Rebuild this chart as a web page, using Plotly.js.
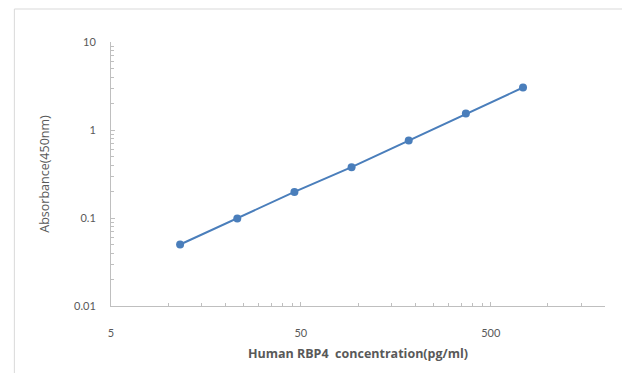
<!DOCTYPE html>
<html>
<head>
<meta charset="utf-8">
<script src="https://cdn.plot.ly/plotly-3.0.1.min.js"></script>
<style>html,body{margin:0;padding:0;background:#fff;}#chart{width:622px;height:373px;}</style>
</head>
<body>
<div id="chart"></div>
<script>
// Data
const concentration = [11.56, 23.13, 46.25, 92.5, 185, 370, 740];
const absorbance = [0.050, 0.099, 0.198, 0.378, 0.76, 1.54, 3.04];

// Axis tick values and labels
const xTickVals = [5, 50, 500];
const xTickText = ['5', '50', '500'];
const xMinorVals = [10, 15, 20, 25, 30, 35, 40, 45, 100, 150, 200, 250, 300, 350, 400, 450, 1000, 1500, 2000];
const yTickVals = [0.01, 0.1, 1, 10];
const yTickText = ['0.01', '0.1', '1', '10'];
const yMinorVals = [0.02, 0.03, 0.04, 0.05, 0.06, 0.07, 0.08, 0.09, 0.2, 0.3, 0.4, 0.5, 0.6, 0.7, 0.8, 0.9, 2, 3, 4, 5, 6, 7, 8, 9];
const xRange = [5, 2000];
const yRange = [0.01, 10];

const xTitle = 'Human RBP4  concentration(pg/ml)';
const yTitle = 'Absorbance(450nm)';

const axisColor = '#bfbfbf';
const textColor = '#595959';
const font = 'Lato, "Open Sans", "Liberation Sans", sans-serif';
const titleFont = '"Open Sans", Lato, "Liberation Sans", sans-serif';

const trace = {
  x: concentration,
  y: absorbance,
  type: 'scatter',
  mode: 'lines+markers',
  line: {color: '#4a7ebb', width: 2},
  marker: {color: '#4a7ebb', size: 8},
  hoverinfo: 'x+y'
};

const layout = {
  width: 622,
  height: 373,
  margin: {l: 111, r: 17, t: 42, b: 67},
  paper_bgcolor: '#ffffff',
  plot_bgcolor: '#ffffff',
  showlegend: false,
  font: {family: font, color: textColor, size: 11},
  xaxis: {
    type: 'log',
    range: xRange.map(Math.log10),
    tickmode: 'array',
    tickvals: xTickVals,
    ticktext: xTickText,
    ticks: 'inside',
    ticklen: 4,
    tickcolor: axisColor,
    ticklabelstandoff: 17,
    minor: {tickmode: 'array', tickvals: xMinorVals, ticks: 'inside', ticklen: 3, tickcolor: axisColor, showgrid: false},
    showline: true,
    linecolor: axisColor,
    linewidth: 1,
    showgrid: false,
    zeroline: false,
    automargin: false,
    tickfont: {size: 11, color: textColor},
    title: {text: xTitle, font: {family: titleFont, size: 12.5, color: textColor, weight: 'bold'}, standoff: 11}
  },
  yaxis: {
    type: 'log',
    range: yRange.map(Math.log10),
    tickmode: 'array',
    tickvals: yTickVals,
    ticktext: yTickText,
    ticks: 'inside',
    ticklen: 4,
    tickcolor: axisColor,
    ticklabelstandoff: 12,
    minor: {tickmode: 'array', tickvals: yMinorVals, ticks: 'inside', ticklen: 3, tickcolor: axisColor, showgrid: false},
    showline: true,
    linecolor: axisColor,
    linewidth: 1,
    showgrid: false,
    zeroline: false,
    automargin: false,
    tickfont: {size: 11, color: textColor},
    title: {text: yTitle, font: {family: titleFont, size: 12.5, color: textColor}, standoff: 21}
  },
  shapes: [{
    type: 'rect', xref: 'paper', yref: 'paper', layer: 'below',
    x0: -0.1956, x1: 1.2, y0: -0.5, y1: 1.125,
    line: {color: '#d9d9d9', width: 1}, fillcolor: 'rgba(0,0,0,0)'
  }]
};

Plotly.newPlot('chart', [trace], layout, {displayModeBar: false, staticPlot: true});
</script>
</body>
</html>
